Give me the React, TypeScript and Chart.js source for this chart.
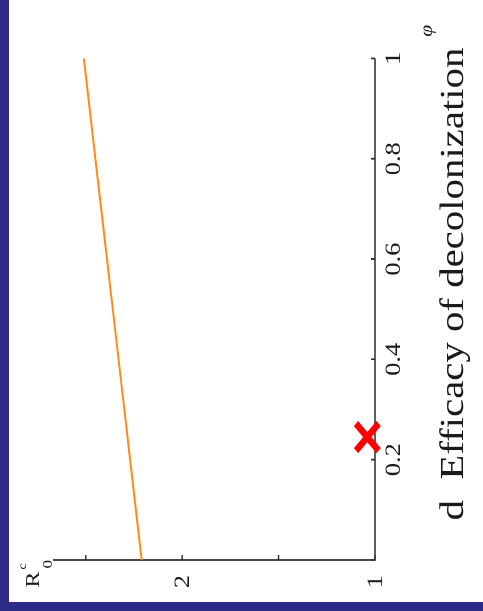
import React, { useEffect, useRef } from "react";
import { Chart, registerables } from "chart.js";

Chart.register(...registerables);

// Basic reproduction number under decolonization, as a function of its efficacy phi
const phiValues = [0, 0.2, 0.4, 0.6, 0.8, 1.0];
const rcValues = [2.21, 2.27, 2.33, 2.39, 2.45, 2.51];

// Highlighted point
const markerPhi = [0.245];
const markerRc = [1.04];

// Axis ticks
const phiTicks = [0, 0.2, 0.4, 0.6, 0.8, 1];
const phiTickLabels = ["", "0.2", "0.4", "0.6", "0.8", "1"];
const rcTicks = [1, 1.5, 2, 2.5];
const rcTickLabels = ["1", "", "2", ""];

const xTitle = "d  Efficacy of decolonization";
const xSymbol = "\u03c6";

const BLUE = "#2c2a86";
const SERIF = '"Liberation Serif", "Times New Roman", serif';

// Canvas is drawn upright, then turned a quarter turn counter-clockwise
const CW = 502;
const CH = 474;

const axesPlugin = {
  id: "axesPlugin",
  beforeDatasetsDraw(chart: any) {
    const { ctx, chartArea, scales } = chart;
    const xs = scales.x;
    const ys = scales.y;
    const { left, right, top, bottom } = chartArea;
    ctx.save();
    ctx.strokeStyle = "#2b2b2b";
    ctx.lineWidth = 1.6;
    ctx.beginPath();
    ctx.moveTo(left, top);
    ctx.lineTo(left, bottom);
    ctx.lineTo(right, bottom);
    ctx.stroke();

    // inward tick marks
    ctx.lineWidth = 1.4;
    ctx.beginPath();
    phiTicks.forEach((t) => {
      const px = xs.getPixelForValue(t);
      ctx.moveTo(px, bottom);
      ctx.lineTo(px, bottom - 4);
    });
    rcTicks.forEach((t) => {
      const py = ys.getPixelForValue(t);
      ctx.moveTo(left, py);
      ctx.lineTo(left + 4, py);
    });
    ctx.stroke();

    ctx.fillStyle = "#1a1a1a";
    // phi tick labels
    ctx.font = `22px ${SERIF}`;
    ctx.textAlign = "center";
    ctx.textBaseline = "alphabetic";
    phiTicks.forEach((t, i) => {
      if (!phiTickLabels[i]) return;
      ctx.fillText(phiTickLabels[i], xs.getPixelForValue(t), bottom + 25);
    });
    // R tick labels
    ctx.textBaseline = "middle";
    rcTicks.forEach((t, i) => {
      if (!rcTickLabels[i]) return;
      ctx.fillText(rcTickLabels[i], left - 18, ys.getPixelForValue(t) + 1);
    });

    // axis title
    ctx.font = `34px ${SERIF}`;
    ctx.textAlign = "left";
    ctx.textBaseline = "alphabetic";
    ctx.fillText(xTitle, 68, bottom + 88);

    // phi symbol at the end of the axis
    ctx.font = `italic 18px ${SERIF}`;
    ctx.textAlign = "center";
    ctx.fillText(xSymbol, right + 23, bottom + 57);

    // R0^c label at the top of the vertical axis
    ctx.textAlign = "left";
    ctx.font = `20px ${SERIF}`;
    ctx.fillText("R", 12, top - 14);
    ctx.font = `12px ${SERIF}`;
    ctx.fillText("c", 27, top - 27);
    ctx.font = `14px ${SERIF}`;
    ctx.fillText("0", 28, top - 1);
    ctx.restore();
  },
};

export default function App() {
  const ref = useRef<HTMLCanvasElement | null>(null);

  useEffect(() => {
    if (!ref.current) return;
    const chart = new Chart(ref.current, {
      type: "line",
      data: {
        datasets: [
          {
            label: "marker",
            data: markerPhi.map((p, i) => ({ x: p, y: markerRc[i] })),
            showLine: false,
            pointStyle: "crossRot",
            pointRadius: 16,
            pointBorderWidth: 6,
            pointBorderColor: "#ff0000",
            pointBackgroundColor: "#ff0000",
            clip: false,
          } as any,
          {
            label: "Rc",
            data: phiValues.map((p, i) => ({ x: p, y: rcValues[i] })),
            borderColor: "#ff8a1c",
            borderWidth: 2,
            pointRadius: 0,
            tension: 0,
            fill: false,
          },
        ],
      },
      options: {
        animation: false,
        responsive: false,
        devicePixelRatio: 2,
        layout: { padding: { left: 35, right: 49, top: 44, bottom: 108 } },
        scales: {
          x: { type: "linear", min: 0, max: 1, display: false },
          y: { type: "linear", min: 1, max: 2.67, display: false },
        },
        plugins: {
          legend: { display: false },
          tooltip: { enabled: false },
        },
      },
      plugins: [axesPlugin],
    });
    return () => chart.destroy();
  }, []);

  return (
    <div
      style={{
        position: "fixed",
        left: 0,
        top: 0,
        width: 483,
        height: 611,
        background: BLUE,
        overflow: "hidden",
      }}
    >
      <div
        style={{
          position: "absolute",
          left: 9,
          top: 0,
          width: 474,
          height: 602,
          background: "#ffffff",
        }}
      />
      <div
        style={{
          position: "absolute",
          left: 9,
          top: 0,
          width: CW,
          height: CH,
          transformOrigin: "0 0",
          transform: "translate(0px, 602px) rotate(-90deg) scale(1.2, 1)",
        }}
      >
        <canvas ref={ref} width={CW} height={CH} style={{ width: CW, height: CH, display: "block" }} />
      </div>
    </div>
  );
}
